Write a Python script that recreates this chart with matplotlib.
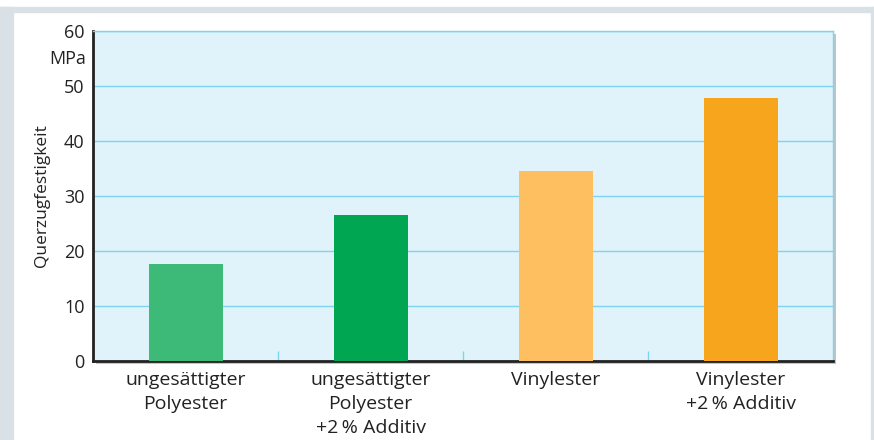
import matplotlib.pyplot as plt
import matplotlib.patheffects as pe
from matplotlib.patches import Rectangle

categories = ["ungesättigter\nPolyester",
              "ungesättigter\nPolyester\n+2\u2009% Additiv",
              "Vinylester",
              "Vinylester\n+2\u2009% Additiv"]
values = [17.6, 26.5, 34.5, 47.8]
colors = ["#3dba78", "#00a651", "#fdbf5f", "#f7a51d"]
y_ticks = [0, 10, 20, 30, 40, 50, 60]

plt.rcParams["font.family"] = ["Open Sans", "DejaVu Sans"]

fig = plt.figure(figsize=(8.74, 4.40), dpi=100)

# outer frame: grey band left/top, thin line right
fig.patches.append(Rectangle((0, 0), 13 / 874, 433 / 440, transform=fig.transFigure,
                             color="#d9e1e7", zorder=0))
fig.patches.append(Rectangle((0, 428 / 440), 1, 5 / 440, transform=fig.transFigure,
                             color="#d9e1e7", zorder=0))
fig.patches.append(Rectangle((871 / 874, 0), 2 / 874, 433 / 440, transform=fig.transFigure,
                             color="#d9e1e7", zorder=0))

ax = fig.add_axes([93 / 874, (440 - 361) / 440, 740 / 874, 330 / 440])
ax.set_facecolor("#e0f3fa")
ax.patch.set_path_effects([pe.SimplePatchShadow(offset=(2, -2), shadow_rgbFace="#888888", alpha=0.5),
                           pe.Normal()])

x = list(range(len(categories)))
ax.bar(x, values, width=0.4, color=colors, zorder=3)

ax.set_xlim(-0.5, len(categories) - 0.5)
ax.set_ylim(0, 60)
ax.set_yticks(y_ticks)
ax.yaxis.grid(True, color="#7fd3f0", linewidth=1, zorder=1)
ax.set_axisbelow(True)

ax.set_xticks([i + 0.5 for i in x[:-1]])
ax.set_xticklabels([])
ax.tick_params(axis="x", direction="in", length=7, color="#7fd3f0", width=1)
ax.tick_params(axis="y", length=0, pad=6, labelsize=13, labelcolor="#222222")

for i, lab in enumerate(categories):
    ax.text(i, -1.9, lab, ha="center", va="top", fontsize=14, color="#222222",
            linespacing=1.42)

ax.text(-0.5 - 0.035, 55, "MPa", ha="right", va="center", fontsize=13, color="#222222")
ax.set_ylabel("Querzugfestigkeit", fontsize=12.5, color="#222222", labelpad=10)

for side in ["left", "bottom"]:
    ax.spines[side].set_color("#222222")
    ax.spines[side].set_linewidth(2)
for side in ["top", "right"]:
    ax.spines[side].set_color("#7fd3f0")
    ax.spines[side].set_linewidth(1)

fig.savefig("out.png", dpi=100)
